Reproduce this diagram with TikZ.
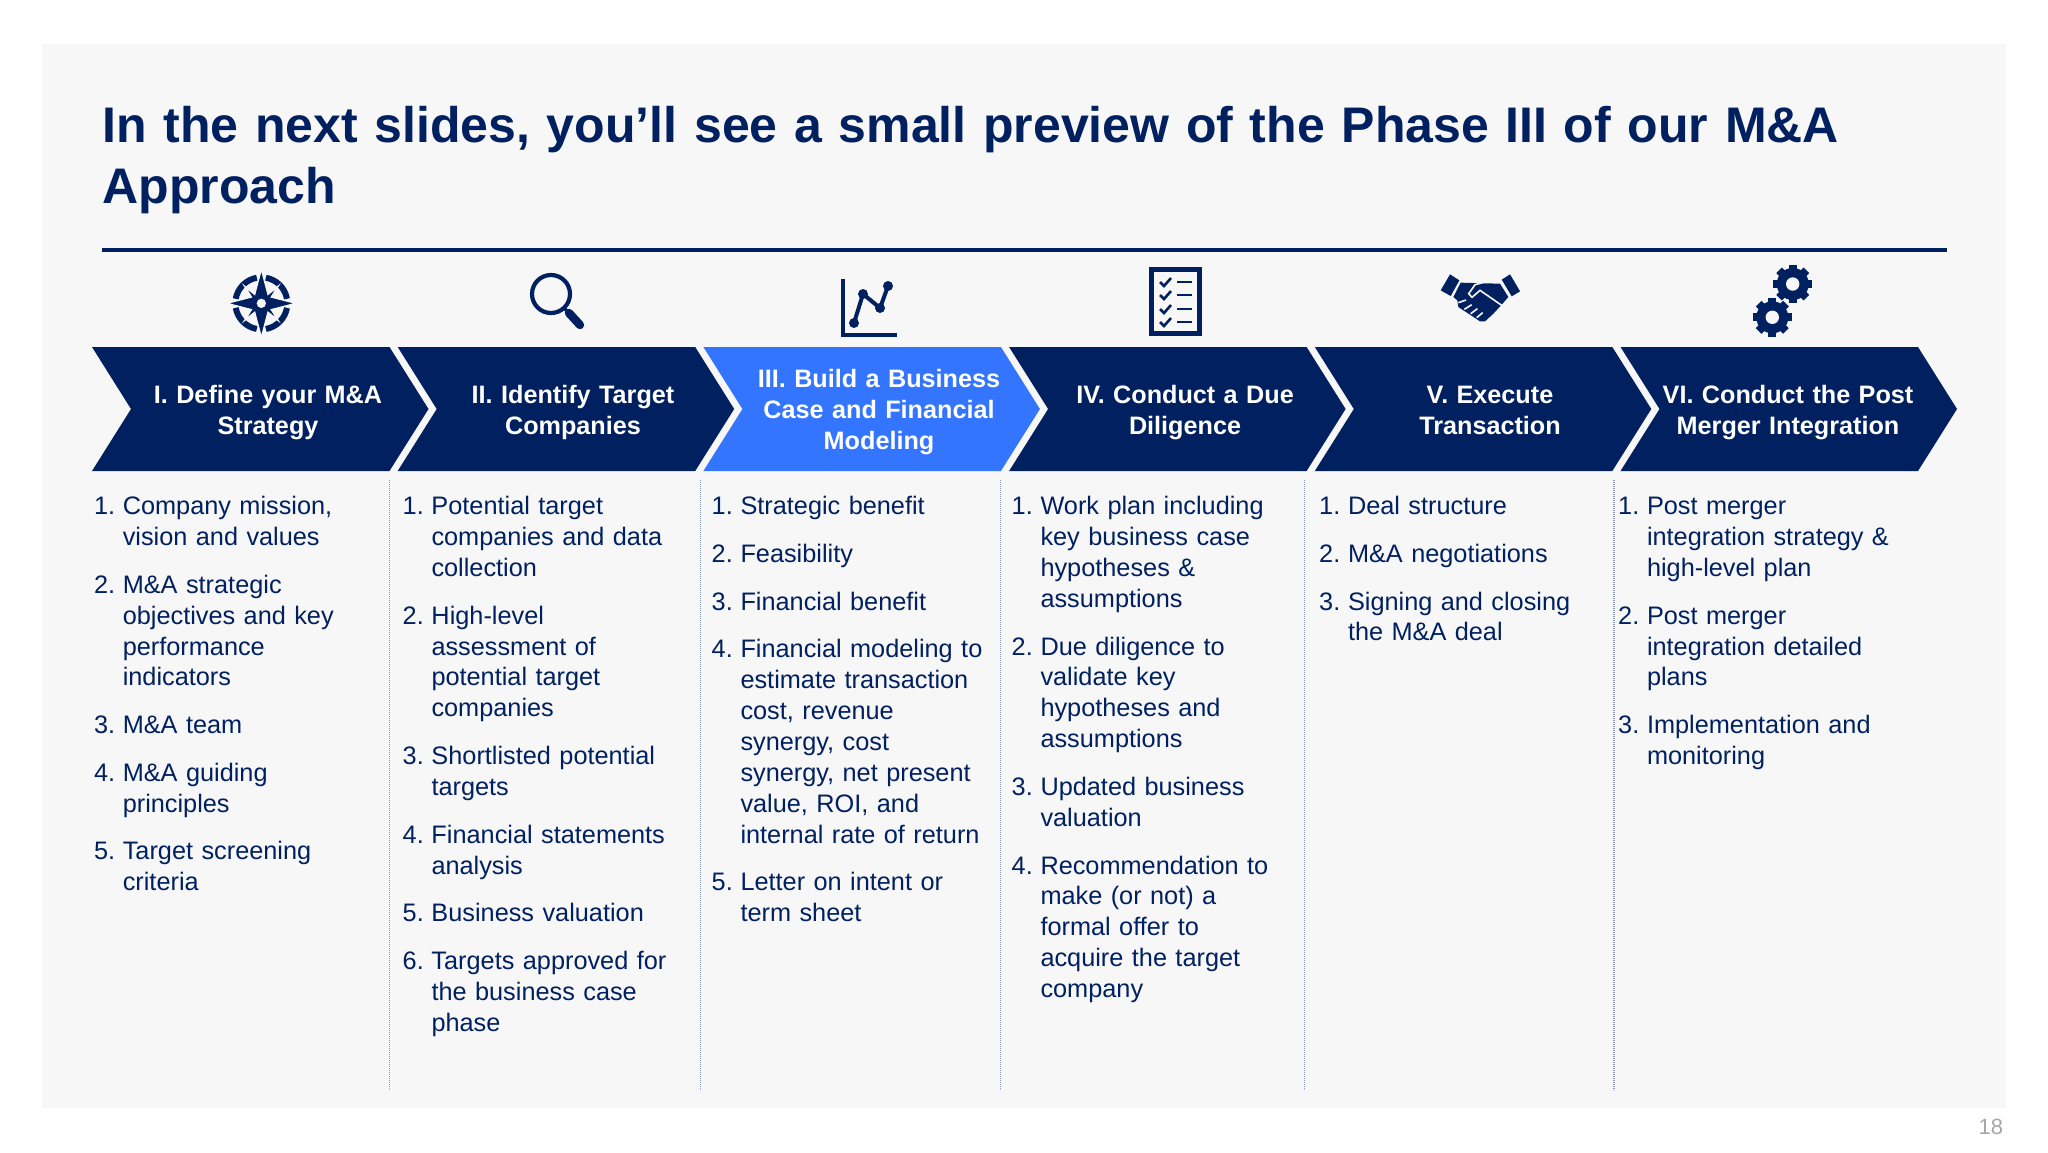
\documentclass[tikz,border=0pt]{standalone}
\usepackage{fontspec}
\setmainfont{Liberation Sans}
\usepackage{tikz}
\usetikzlibrary{positioning}
\definecolor{dfnavy}{RGB}{0,32,96}
\definecolor{dfblue}{RGB}{51,117,255}
\definecolor{dfpanel}{RGB}{247,247,248}
\definecolor{dfgray}{RGB}{166,166,166}
\definecolor{dfline}{RGB}{140,150,185}
\tikzstyle{phase} = [inner sep=0pt, outer sep=0pt, text width=145pt, align=center, text=white, font=\fontsize{12.6}{15.6}\selectfont\bfseries, execute at begin node=\strut, execute at end node=\strut]
\tikzstyle{entry} = [inner sep=0pt, outer sep=0pt, text width=135pt, align=left, text=dfnavy, font=\fontsize{12.65}{15.45}\selectfont, execute at begin node=\strut, execute at end node=\strut, node distance=8.4pt]
\tikzstyle{sep} = [line width=0.6pt, dfline, dash pattern=on 0.6pt off 0.4pt]
\tikzstyle{icon} = [line width=2pt, dfnavy]
\newcommand{\chevron}[2]{\fill[#2] (#1,347) -- ++(297.5,0) -- ++(39,62) -- ++(-39,62) -- ++(-297.5,0) -- ++(39,-62) -- cycle;}
\newcommand{\num}[1]{\llap{\makebox[14.4pt][l]{#1.}}}
\newcommand{\gearicon}[2]{%
  \fill[dfnavy] (#1,#2) circle (16);
  \foreach \a in {0,45,...,315} \draw[line width=4pt, dfnavy] (#1,#2) -- ++(\a:19.3);
  \fill[dfpanel] (#1,#2) circle (6.7);}
\begin{document}
\begin{tikzpicture}[x=0.5pt, y=-0.5pt]
    \useasboundingbox (0,0) rectangle (2048,1152);
    \fill[white] (0,0) rectangle (2048,1152);
    \fill[dfpanel] (42,44) rectangle (2006,1108);

    % Title
    \node[anchor=base west, inner sep=0pt, text width=930pt, align=left, text=dfnavy, font=\fontsize{25}{30.7}\selectfont\bfseries] (title) at (102,142) {In the next slides, you’ll see a small preview of the Phase III of our M\&A\\Approach};
    \coordinate (ruleL) at (102,250);
    \coordinate (ruleR) at (1947,250);
    \draw[line width=2pt, dfnavy] (ruleL) -- (ruleR);
    \node[anchor=east, inner sep=0pt, text=dfgray, font=\fontsize{11}{13}\selectfont] (page) at (2003.5,1127) {18};

    % Chevrons
    \chevron{92}{dfnavy}
    \chevron{397.7}{dfnavy}
    \chevron{703.4}{dfblue}
    \chevron{1009.1}{dfnavy}
    \chevron{1314.8}{dfnavy}
    \chevron{1620.5}{dfnavy}
    \node[phase] (ph1) at (268,412.5) {I. Define your M\&A\\Strategy};
    \node[phase] (ph2) at (573,412.5) {II. Identify Target\\Companies};
    \node[phase] (ph3) at (879,412.5) {III. Build a Business\\Case and Financial\\Modeling};
    \node[phase] (ph4) at (1185,412.5) {IV. Conduct a Due\\Diligence};
    \node[phase] (ph5) at (1490,412.5) {V. Execute\\Transaction};
    \node[phase] (ph6) at (1788,412.5) {VI. Conduct the Post\\Merger Integration};

    % Separators
    \draw[sep] (389.5,480) -- (389.5,1090);
    \draw[sep] (700.6,480) -- (700.6,1090);
    \draw[sep] (1000.7,480) -- (1000.7,1090);
    \draw[sep] (1304.5,480) -- (1304.5,1090);
    \draw[sep] (1614,480) -- (1614,1090);

    % Column 1
    \node[entry, anchor=north west] (a1) at (122.8,493) {\num{1}Company mission,\\vision and values};
    \node[entry, below=of a1] (a2) {\num{2}M\&A strategic\\objectives and key\\performance\\indicators};
    \node[entry, below=of a2] (a3) {\num{3}M\&A team};
    \node[entry, below=of a3] (a4) {\num{4}M\&A guiding\\principles};
    \node[entry, below=of a4] (a5) {\num{5}Target screening\\criteria};

    % Column 2
    \node[entry, anchor=north west] (b1) at (431.5,493) {\num{1}Potential target\\companies and data\\collection};
    \node[entry, below=of b1] (b2) {\num{2}High-level\\assessment of\\potential target\\companies};
    \node[entry, below=of b2] (b3) {\num{3}Shortlisted potential\\targets};
    \node[entry, below=of b3] (b4) {\num{4}Financial statements\\analysis};
    \node[entry, below=of b4] (b5) {\num{5}Business valuation};
    \node[entry, below=of b5] (b6) {\num{6}Targets approved for\\the business case\\phase};

    % Column 3
    \node[entry, anchor=north west] (c1) at (740.5,493) {\num{1}Strategic benefit};
    \node[entry, below=of c1] (c2) {\num{2}Feasibility};
    \node[entry, below=of c2] (c3) {\num{3}Financial benefit};
    \node[entry, below=of c3] (c4) {\num{4}Financial modeling to\\estimate transaction\\cost, revenue\\synergy, cost\\synergy, net present\\value, ROI, and\\internal rate of return};
    \node[entry, below=of c4] (c5) {\num{5}Letter on intent or\\term sheet};

    % Column 4
    \node[entry, anchor=north west] (d1) at (1040.5,493) {\num{1}Work plan including\\key business case\\hypotheses \&\\assumptions};
    \node[entry, below=of d1] (d2) {\num{2}Due diligence to\\validate key\\hypotheses and\\assumptions};
    \node[entry, below=of d2] (d3) {\num{3}Updated business\\valuation};
    \node[entry, below=of d3] (d4) {\num{4}Recommendation to\\make (or not) a\\formal offer to\\acquire the target\\company};

    % Column 5
    \node[entry, anchor=north west] (e1) at (1348,493) {\num{1}Deal structure};
    \node[entry, below=of e1] (e2) {\num{2}M\&A negotiations};
    \node[entry, below=of e2] (e3) {\num{3}Signing and closing\\the M\&A deal};

    % Column 6
    \node[entry, anchor=north west] (f1) at (1647,493) {\num{1}Post merger\\integration strategy \&\\high-level plan};
    \node[entry, below=of f1] (f2) {\num{2}Post merger\\integration detailed\\plans};
    \node[entry, below=of f2] (f3) {\num{3}Implementation and\\monitoring};

    % Compass
    \begin{scope}[shift={(222,265)}, x=0.1667pt, y=-0.1667pt]
        \draw[line width=3pt, dfnavy] (118,115) ++(100:78) arc (100:170:78);
        \draw[line width=3pt, dfnavy] (118,115) ++(10:78) arc (10:80:78);
        \draw[line width=3pt, dfnavy] (118,115) ++(190:78) arc (190:260:78);
        \draw[line width=3pt, dfnavy] (118,115) ++(280:78) arc (280:350:78);
        \fill[dfnavy, draw=dfpanel, line width=0.7pt] (118,12) -- (138,88) -- (168,64) -- (148,96) -- (222,115) -- (148,134) -- (168,166) -- (138,142) -- (118,218) -- (98,142) -- (68,166) -- (88,134) -- (14,115) -- (88,96) -- (68,64) -- (98,88) -- cycle;
        \fill[dfpanel] (118,115) circle (14);
    \end{scope}

    % Magnifier
    \draw[icon, line width=2.1pt] (551,294) circle (19);
    \draw[line width=1.6pt, dfnavy] (564,308) -- (570,314);
    \draw[line width=4.2pt, dfnavy, line cap=round] (569,313) -- (580,325);

    % Chart
    \draw[icon] (843,279) -- (843,335) -- (897,335);
    \draw[icon] (854,323) -- (863,294) -- (880,308) -- (888,286);
    \fill[dfnavy] (854,323) circle (5);
    \fill[dfnavy] (863,294) circle (5);
    \fill[dfnavy] (880,308) circle (5);
    \fill[dfnavy] (888,286) circle (5);

    % Checklist
    \draw[line width=2.4pt, dfnavy] (1151.5,269.5) rectangle (1199.5,333.5);
    \draw[line width=1.3pt, dfnavy] (1160,282) -- (1164,286) -- (1171,278);
    \draw[line width=1.3pt, dfnavy] (1160,295) -- (1164,299) -- (1171,291);
    \draw[line width=1.3pt, dfnavy] (1160,309) -- (1164,313) -- (1171,305);
    \draw[line width=1.3pt, dfnavy] (1160,322) -- (1164,326) -- (1171,318);
    \draw[line width=1.3pt, dfnavy] (1177,282) -- (1192,282);
    \draw[line width=1.3pt, dfnavy] (1177,295) -- (1192,295);
    \draw[line width=1.3pt, dfnavy] (1177,309) -- (1192,309);
    \draw[line width=1.3pt, dfnavy] (1177,322) -- (1192,322);

    % Handshake
    \begin{scope}[shift={(1430,262)}, x=0.1667pt, y=-0.1667pt]
        \fill[dfnavy] (32,85) -- (60,37) -- (88,55) -- (62,102) -- cycle;
        \fill[dfnavy] (215,53) -- (240,37) -- (270,88) -- (245,103) -- cycle;
        \fill[dfnavy] (92,62) -- (210,65) -- (235,105) -- (215,128) -- (190,155) -- (165,178) -- (150,178) -- (85,135) -- (82,115) -- (70,105) -- cycle;
        \draw[line width=0.8pt, dfpanel] (165,60) -- (135,68) -- (116,95) -- (126,106) -- (150,85) -- (215,130);
        \draw[line width=0.8pt, dfpanel] (85,122) -- (108,114);
        \draw[line width=0.8pt, dfpanel] (103,142) -- (125,128);
        \draw[line width=0.8pt, dfpanel] (122,155) -- (142,140);
        \draw[line width=0.8pt, dfpanel] (140,167) -- (158,152);
    \end{scope}

    % Gears
    \gearicon{1792.7}{284}
    \gearicon{1772.3}{317.3}
\end{tikzpicture}
\end{document}
